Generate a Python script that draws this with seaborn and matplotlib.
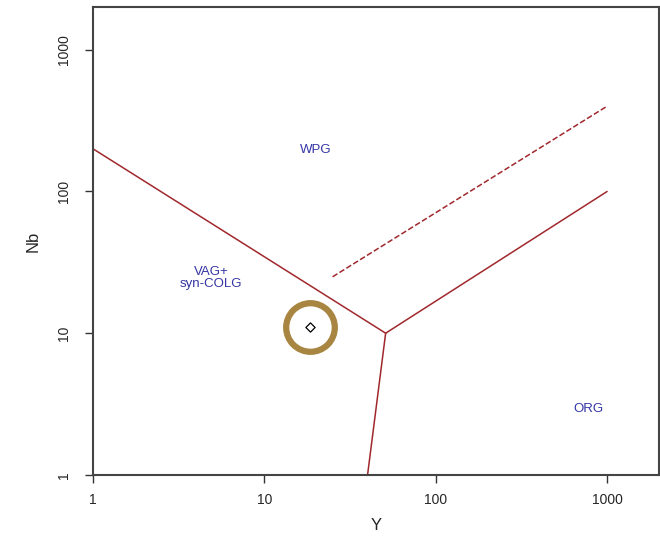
import pandas as pd
import matplotlib.pyplot as plt
import seaborn as sns

# Pearce et al. (1984) Nb-Y boundaries
vag_wpg_y = [1, 51]
vag_wpg_nb = [200, 10]
wpg_org_y = [51, 1000]
wpg_org_nb = [10, 100]
vag_org_y = [51, 40]
vag_org_nb = [10, 1]
dashed_y = [25, 1000]
dashed_nb = [25, 400]

# sample
sample_y = [18.5]
sample_nb = [11]

field_names = ['WPG', 'VAG+\nsyn-COLG', 'ORG']
field_y = [20, 4.9, 780]
field_nb = [195, 24.5, 2.9]

line_col = '#A0282D'
text_col = '#3535A5'

sns.set_style('white')
plt.rcParams['font.family'] = ['Liberation Sans', 'DejaVu Sans']
fig = plt.figure(figsize=(6.6, 5.49), dpi=100)
ax = fig.add_axes([0.141, 0.135, 0.857, 0.852])

for xs, ys, ls in [(vag_wpg_y, vag_wpg_nb, '-'), (wpg_org_y, wpg_org_nb, '-'),
                   (vag_org_y, vag_org_nb, '-'), (dashed_y, dashed_nb, '--')]:
    df = pd.DataFrame({'Y': xs, 'Nb': ys})
    sns.lineplot(data=df, x='Y', y='Nb', sort=False, color=line_col, lw=1.1,
                 linestyle=ls, ax=ax)

pts = pd.DataFrame({'Y': sample_y, 'Nb': sample_nb})
sns.scatterplot(data=pts, x='Y', y='Nb', marker='D', s=22, facecolor='white',
                edgecolor='black', linewidth=0.9, ax=ax, zorder=4)
ax.plot(sample_y, sample_nb, 'o', ms=35, mfc='none', mec='#A88642', mew=4.5, zorder=3)

for name, x, y in zip(field_names, field_y, field_nb):
    ax.text(x, y, name, color=text_col, fontsize=9.5, ha='center', va='center',
            linespacing=1.0)

ax.set_xscale('log')
ax.set_yscale('log')
ax.set_xlim(1, 2000)
ax.set_ylim(1, 2000)
ticks = [1, 10, 100, 1000]
ax.set_xticks(ticks)
ax.set_yticks(ticks)
ax.set_xticklabels([str(t) for t in ticks])
ax.set_yticklabels([str(t) for t in ticks], rotation=90, va='center')
ax.minorticks_off()
ax.tick_params(axis='both', which='major', direction='out', length=6, width=1,
               color='#333333', labelsize=10, bottom=True, left=True, pad=7)
ax.tick_params(axis='y', pad=10)
for s in ax.spines.values():
    s.set_color('#444444')
    s.set_linewidth(1.5)
ax.set_xlabel('Y', fontsize=12, labelpad=8)
ax.set_ylabel('Nb', fontsize=12, labelpad=12)

fig.savefig('out.png', dpi=100)
